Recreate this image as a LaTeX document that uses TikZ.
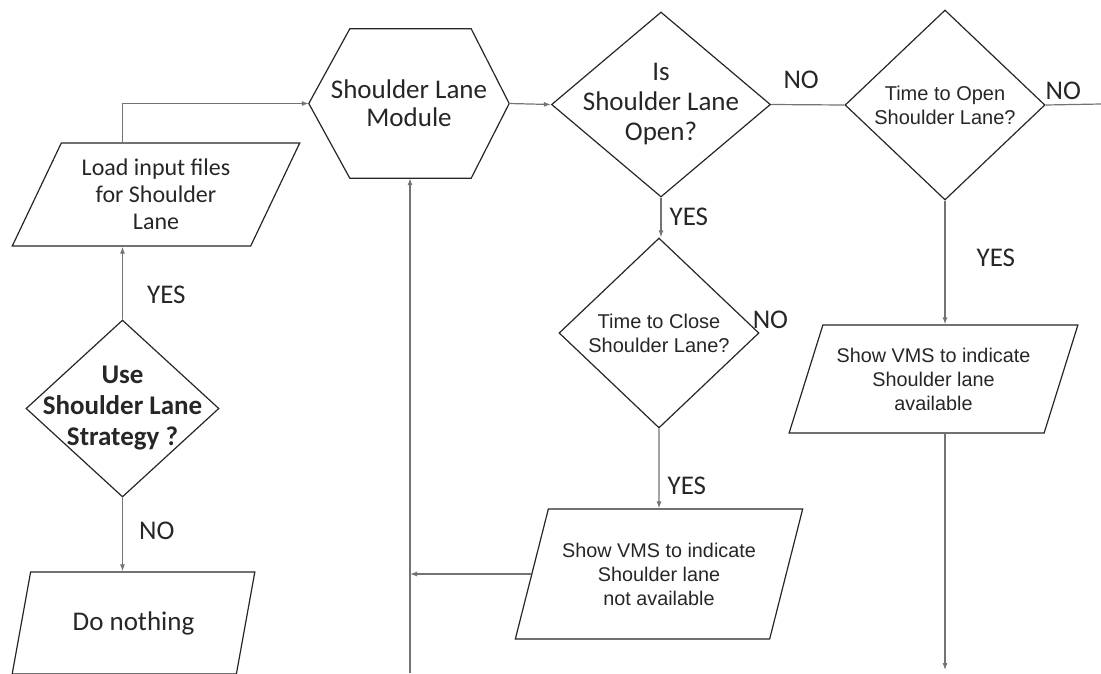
\documentclass[tikz,border=0pt]{standalone}
\usepackage{fontspec}
\setmainfont{Carlito}
\newfontfamily\arialfont{Liberation Sans}
\usetikzlibrary{shapes.geometric,arrows.meta}

\begin{document}
\begin{tikzpicture}[x=1pt,y=-1pt,
  line/.style={draw=black!55, line width=1.2pt},
  arrow/.style={line, -{Latex[length=7pt,width=5pt]}},
  outline/.style={draw=black!85, line width=1.2pt, line join=miter},
  decision/.style={diamond, outline, inner sep=-40pt, align=center, text=black!85},
  iobox/.style={trapezium, trapezium stretches=true, outline, inner sep=0pt, align=center, text=black!85},
  module/.style={rectangle, inner sep=0pt, align=center, text=black!85},
  lbl/.style={text=black!85, font=\fontsize{27}{30}\selectfont, inner sep=0pt}]

\useasboundingbox (0,0) rectangle (1101,673);

% shapes
\node[module, minimum width=200pt, minimum height=149pt, font=\fontsize{27}{28}\selectfont] (slm) at (409,103.5) {Shoulder Lane\\Module};
\draw[outline] (slm.west) -- ([xshift=41pt]slm.north west) -- ([xshift=-38pt]slm.north east)
  -- (slm.east) -- ([xshift=-38pt]slm.south east) -- ([xshift=41pt]slm.south west) -- cycle;
\node[decision, minimum width=193pt, minimum height=177pt, font=\bfseries\fontsize{27}{31}\selectfont] (usesl) at (122.5,408.5) {Use\\Shoulder Lane\\Strategy ?};
\node[iobox, trapezium left angle=61.5, trapezium right angle=118.5, minimum width=288pt, minimum height=103pt, font=\fontsize{24}{27}\selectfont] (load) at (156,194.5) {Load input files\\for Shoulder\\Lane};
\node[iobox, trapezium left angle=65, trapezium right angle=115, minimum width=243pt, minimum height=102pt, font=\fontsize{27}{29}\selectfont] (nothing) at (133.5,623) {Do nothing};
\node[decision, minimum width=219pt, minimum height=185pt, font=\fontsize{27}{30}\selectfont] (isopen) at (661,104.5) {Is\\Shoulder Lane\\Open?};
\node[decision, minimum width=200pt, minimum height=190pt, font=\arialfont\fontsize{20}{24}\selectfont] (opentime) at (945,105) {Time to Open\\Shoulder Lane?};
\node[decision, minimum width=200pt, minimum height=190pt, font=\arialfont\fontsize{20}{24}\selectfont] (closetime) at (659,333) {Time to Close\\Shoulder Lane?};
\node[iobox, trapezium left angle=65.2, trapezium right angle=114.8, minimum width=288pt, minimum height=130pt, font=\arialfont\fontsize{19.8}{24}\selectfont] (notavail) at (659,574) {Show VMS to indicate\\Shoulder lane\\not available};
\node[iobox, trapezium left angle=64.7, trapezium right angle=115.3, minimum width=289pt, minimum height=108pt, font=\arialfont\fontsize{19.8}{24}\selectfont] (avail) at (933.5,379) {Show VMS to indicate\\Shoulder lane\\available};

% loose ends
\coordinate (slbottom) at (410,673);
\coordinate (availend) at (945,670);
\coordinate (openend) at (1101,104);

% connectors
\draw[arrow] (usesl.north) -- node[lbl, pos=0.34, anchor=west, xshift=24pt] (yesload) {YES} (usesl.north |- load.south);
\draw[arrow] (usesl.north |- load.north) |- (slm.west);
\draw[arrow] (usesl.south) -- node[lbl, pos=0.45, anchor=west, xshift=16pt] (nouse) {NO} (usesl.south |- nothing.north);
\draw[arrow] (slm.east) -- (isopen.west);
\draw[line] (isopen.east) -- node[lbl, pos=0.41, yshift=25pt] (noopen) {NO} (opentime.west);
\draw[line] (opentime.east) -- node[lbl, pos=0.32, yshift=14pt] (noright) {NO} (openend);
\draw[arrow] (isopen.south) -- node[lbl, pos=0.49, anchor=west, xshift=8pt] (yesclose) {YES} (isopen.south |- closetime.north);
\node[lbl, anchor=west, xshift=-7pt, yshift=13pt] (noclose) at (closetime.east) {NO};
\draw[arrow] (closetime.south) -- node[lbl, pos=0.72, anchor=west, xshift=8pt] (yesshow) {YES} (notavail.north);
\draw[arrow] (notavail.west) -- (notavail.west -| slbottom);
\draw[arrow] (slbottom) -- (slbottom |- slm.south);
\draw[arrow] (opentime.south) -- node[lbl, pos=0.46, anchor=west, xshift=31pt] (yesopen) {YES} (opentime.south |- avail.north);
\draw[arrow] (availend |- avail.south) -- (availend);

\end{tikzpicture}
\end{document}
